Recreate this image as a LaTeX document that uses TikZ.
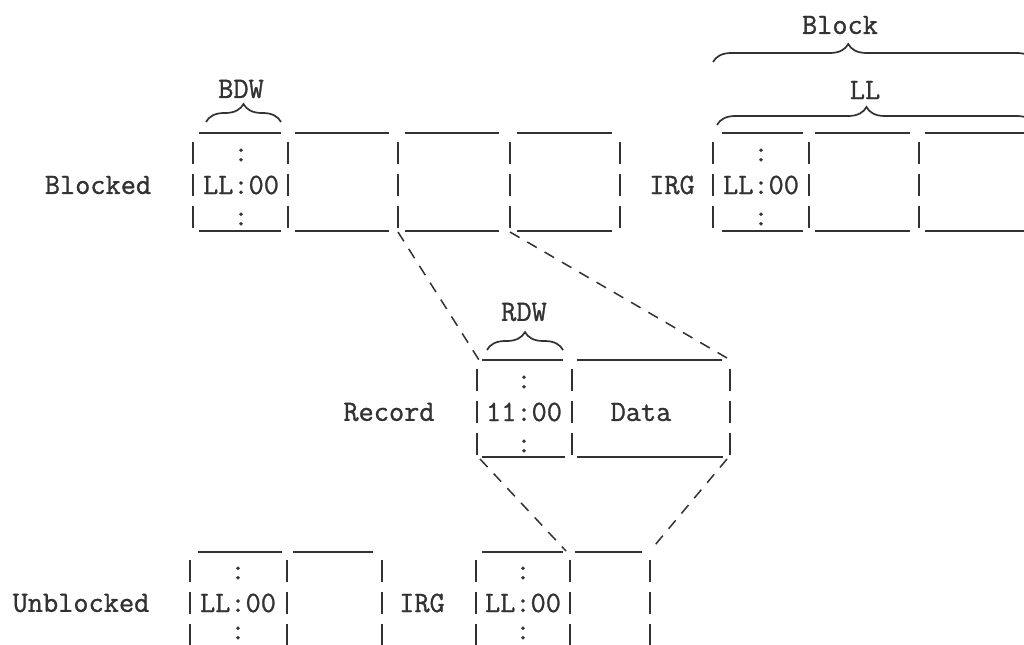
\documentclass[tikz,border=0pt]{standalone}
\usepackage{fontspec}
\newfontfamily\twfont{Latin Modern Mono}[FakeBold=1.0]
\usetikzlibrary{decorations.pathreplacing}
\definecolor{ink}{RGB}{50,50,50}
\newcommand\tbar[2]{%
  \draw[barline] (#1,#2-43) -- (#1,#2-21);
  \draw[barline] (#1,#2-11) -- (#1,#2+11);
  \draw[barline] (#1,#2+21) -- (#1,#2+43);
}
\begin{document}
\begin{tikzpicture}[x=1bp,y=-1bp,
  barline/.style={draw=ink, line width=2bp},
  rule/.style={draw=ink, line width=1.8bp},
  guide/.style={draw=ink, line width=1.5bp, dash pattern=on 11bp off 9bp},
  lbl/.style={font=\fontsize{29.5bp}{34bp}\twfont, text=ink, inner sep=0pt},
  brace/.style={draw=ink, line width=1.7bp, decorate, decoration={brace, amplitude=18bp, #1}},
  brace/.default={aspect=0.5}]
\path[use as bounding box, fill=white] (0,0) rectangle (1024,645);
\clip (0,0) rectangle (1024,645);

% ---------- Blocked row ----------
\node[lbl] (blocked) at (98,185) {Blocked};
\foreach \x in {193,288,398,510,620,713,809,919} {\tbar{\x}{185}}
\foreach \a/\b in {199/281,295/389,405/499,517/612,722/803,815/910,925/1030} {
  \draw[rule] (\a,133) -- (\b,133);
  \draw[rule] (\a,231) -- (\b,231);
}
\node[lbl] (bdw) at (241,89) {BDW};
\draw[brace] (206,122) -- (281,122);
\node[lbl] (c1a) at (241,155) {:};
\node[lbl] (ll1) at (241,185) {LL:00};
\node[lbl] (c1b) at (241,219) {:};
\node[lbl] (irg1) at (672,185) {IRG};
\node[lbl] (c2a) at (761,155) {:};
\node[lbl] (ll2) at (761,185) {LL:00};
\node[lbl] (c2b) at (761,219) {:};
\node[lbl] (block) at (840,25) {Block};
\draw[brace={aspect=0.42}] (713,62) -- (1035,62);
\node[lbl] (ll) at (865,90) {LL};
\draw[brace={aspect=0.47}] (717,125) -- (1035,125);

% ---------- Record row ----------
\node[lbl] (record) at (389,412) {Record};
\foreach \x in {477,572,730} {\tbar{\x}{412}}
\draw[rule] (482,360) -- (563,360);
\draw[rule] (577,360) -- (722,360);
\draw[rule] (482,457) -- (565,457);
\draw[rule] (577,457) -- (723,457);
\node[lbl] (rdw) at (524,312) {RDW};
\draw[brace] (487,350) -- (563,350);
\node[lbl] (c3a) at (524,382) {:};
\node[lbl] (rll) at (524,412) {11:00};
\node[lbl] (c3b) at (524,446) {:};
\node[lbl] (data) at (641,412) {Data};

% ---------- Unblocked row ----------
\node[lbl] (unblocked) at (81,603) {Unblocked};
\foreach \x in {190,287,382,476,570,650} {\tbar{\x}{603}}
\draw[rule] (198,552) -- (282,552);
\draw[rule] (293,552) -- (373,552);
\draw[rule] (482,552) -- (563,552);
\draw[rule] (575,552) -- (642,552);
\node[lbl] (c4a) at (238,573) {:};
\node[lbl] (ll3) at (238,603) {LL:00};
\node[lbl] (c4b) at (238,633) {:};
\node[lbl] (irg2) at (422,603) {IRG};
\node[lbl] (c5a) at (523,573) {:};
\node[lbl] (ll4) at (523,603) {LL:00};
\node[lbl] (c5b) at (523,633) {:};

% ---------- expansion guides ----------
\coordinate (p1) at (398,232);
\coordinate (q1) at (479,360);
\coordinate (p2) at (510,232);
\coordinate (q2) at (727,358);
\coordinate (p3) at (480,459);
\coordinate (q3) at (566,551);
\coordinate (p4) at (727,459);
\coordinate (q4) at (650,551);
\draw[guide] (p1) -- (q1);
\draw[guide] (p2) -- (q2);
\draw[guide] (p3) -- (q3);
\draw[guide] (p4) -- (q4);
\end{tikzpicture}
\end{document}
